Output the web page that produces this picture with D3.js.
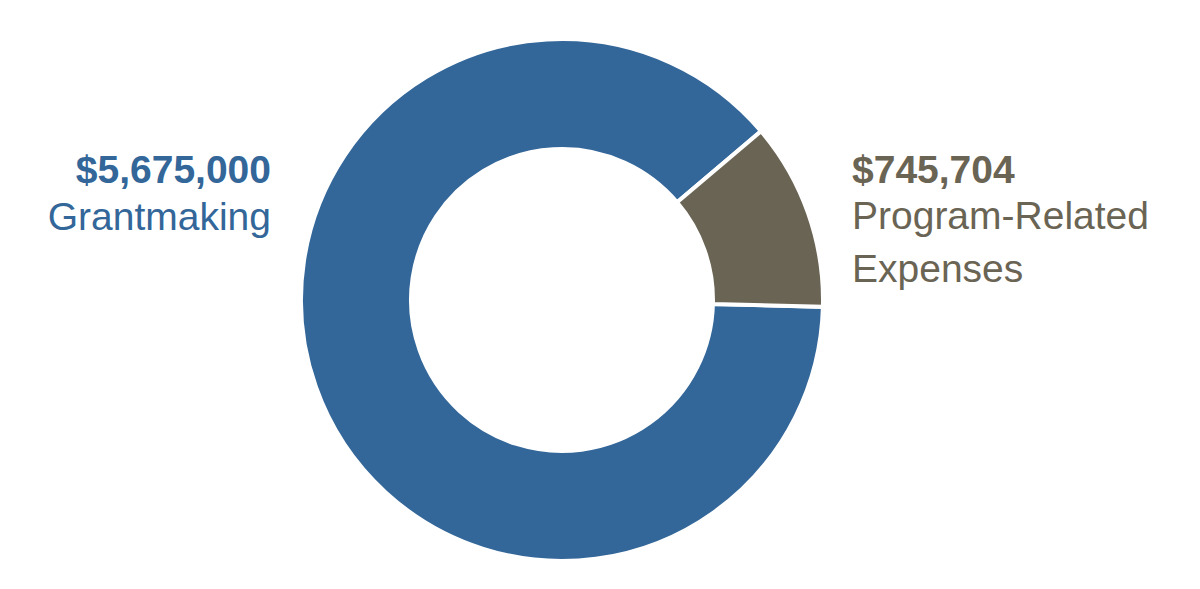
<!DOCTYPE html>
<html>
<head>
<meta charset="utf-8">
<script src="https://cdn.jsdelivr.net/npm/d3@7"></script>
<style>
  html, body { margin: 0; padding: 0; background: #fff; }
  svg { display: block; font-family: "Liberation Sans", Arial, sans-serif; }
</style>
</head>
<body>
<svg id="chart" width="1200" height="589"></svg>
<script>
// ── Data ──────────────────────────────────────────────────────────────────────
const categories = ["Grantmaking", "Program-Related Expenses"];
const amounts    = [5675000, 745704];
const labelLines = [["Grantmaking"], ["Program-Related", "Expenses"]];
const colors     = ["#336699", "#6a6454"];

// ── Donut ─────────────────────────────────────────────────────────────────────
const svg = d3.select("#chart");
const cx = 562, cy = 300;

const pie = d3.pie()
  .sort(null)
  .startAngle(91.5 * Math.PI / 180)
  .endAngle(91.5 * Math.PI / 180 + 2 * Math.PI);

const arc = d3.arc().innerRadius(151).outerRadius(261);

const slices = pie(amounts);

svg.append("g")
  .attr("transform", `translate(${cx},${cy})`)
  .selectAll("path").data(slices).join("path")
  .attr("d", arc)
  .attr("fill", (d, i) => colors[i])
  .attr("stroke", "#fff")
  .attr("stroke-width", 4)
  .attr("stroke-linejoin", "miter");

// ── Labels ────────────────────────────────────────────────────────────────────
const fmt = v => "$" + d3.format(",")(v);

const labelPos = [
  { x: 271, anchor: "end",   lines: [230] },
  { x: 852, anchor: "start", lines: [229, 282] }
];

categories.forEach((c, i) => {
  const p = labelPos[i];
  const g = svg.append("g").attr("fill", colors[i]).attr("text-anchor", p.anchor);
  g.append("text")
    .attr("x", p.x).attr("y", 183)
    .style("font-size", "39px").style("font-weight", "bold")
    .text(fmt(amounts[i]));
  labelLines[i].forEach((t, j) => {
    g.append("text")
      .attr("x", p.x).attr("y", p.lines[j])
      .style("font-size", "39px")
      .text(t);
  });
});
</script>
</body>
</html>
